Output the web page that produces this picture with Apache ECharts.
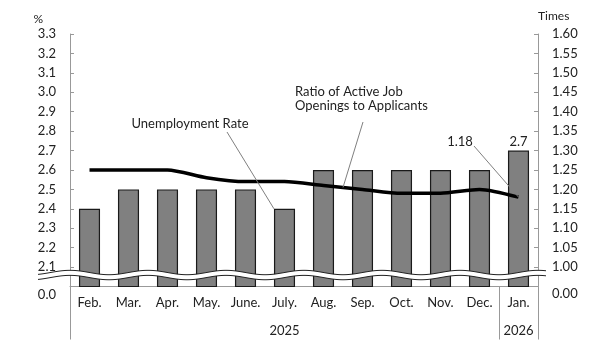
<!DOCTYPE html>
<html>
<head>
<meta charset="utf-8">
<script src="https://cdn.jsdelivr.net/npm/echarts@6/dist/echarts.min.js"></script>
<style>
html, body { margin: 0; padding: 0; background: #fff; }
#panel { width: 606px; height: 355px; }
</style>
</head>
<body>
<div id="panel"></div>
<script>
var months = ['Feb.', 'Mar.', 'Apr.', 'May.', 'June.', 'July.', 'Aug.', 'Sep.', 'Oct.', 'Nov.', 'Dec.', 'Jan.'];
var unemploymentRate = [2.4, 2.5, 2.5, 2.5, 2.5, 2.4, 2.6, 2.6, 2.6, 2.6, 2.6, 2.7];
var jobRatio = [1.25, 1.25, 1.25, 1.23, 1.22, 1.22, 1.21, 1.20, 1.19, 1.19, 1.20, 1.18];
var years = ['2025', '2026'];
var yearSpans = [[0, 11], [11, 12]];   // category index range of each year

var FONT = 'Lato';
var TEXT = '#222';
var AXIS = '#999';

var myChart;

function buildOption()
{
    var last = unemploymentRate.length - 1;
    var yearCenters = yearSpans.map(function (s) { return (s[0] + s[1]) / 2; });
    var yearBounds = [];
    yearSpans.forEach(function (s) {
        if (yearBounds.indexOf(s[0]) < 0) yearBounds.push(s[0]);
        if (yearBounds.indexOf(s[1]) < 0) yearBounds.push(s[1]);
    });

    return {
        backgroundColor: '#fff',
        animation: false,
        textStyle: { fontFamily: FONT, color: TEXT },
        grid: { left: 70, right: 68, top: 34, bottom: 68.5 },
        xAxis: [
            {
                type: 'category',
                data: months,
                axisLine: { lineStyle: { color: AXIS, width: 1 } },
                axisTick: { show: false },
                axisLabel: { color: TEXT, fontSize: 13, fontFamily: FONT, margin: 10, interval: 0 }
            },
            {
                // year row under the months
                type: 'value',
                position: 'bottom',
                min: 0,
                max: 12,
                interval: 0.5,
                axisLine: { show: false },
                splitLine: { show: false },
                axisTick: { show: true, length: 53, customValues: yearBounds, lineStyle: { color: AXIS } },
                axisLabel: {
                    color: TEXT, fontSize: 13, fontFamily: FONT, margin: 38,
                    customValues: yearCenters,
                    formatter: function (v) {
                        var i = yearCenters.indexOf(v);
                        return i >= 0 ? years[i] : '';
                    }
                }
            }
        ],
        yAxis: [
            {
                type: 'value',
                min: 2.0,
                max: 3.3,
                interval: 0.1,
                name: '%',
                nameLocation: 'end',
                nameGap: 9,
                nameTextStyle: { color: TEXT, fontSize: 12, fontFamily: FONT, align: 'right', padding: [0, 27, 0, 0] },
                axisLine: { show: true, lineStyle: { color: AXIS } },
                axisTick: { show: true, inside: true, length: 4, lineStyle: { color: AXIS } },
                splitLine: { show: false },
                axisLabel: {
                    color: TEXT, fontSize: 13, fontFamily: FONT, margin: 14,
                    formatter: function (v) {
                        if (Math.abs(v - 2.0) < 1e-6) return '{b|0.0}';
                        return v.toFixed(1);
                    },
                    rich: { b: { fontSize: 13, fontFamily: FONT, color: TEXT, padding: [16, 0, 0, 0] } }
                }
            },
            {
                type: 'value',
                min: 0.95,
                max: 1.60,
                interval: 0.05,
                name: 'Times',
                nameLocation: 'end',
                nameGap: 12,
                nameTextStyle: { color: TEXT, fontSize: 12, fontFamily: FONT, align: 'left', padding: [0, 0, 0, 0] },
                axisLine: { show: true, lineStyle: { color: AXIS } },
                axisTick: { show: true, inside: true, length: 4, lineStyle: { color: AXIS } },
                splitLine: { show: false },
                axisLabel: {
                    color: TEXT, fontSize: 13, fontFamily: FONT, margin: 14,
                    formatter: function (v) {
                        if (Math.abs(v - 0.95) < 1e-6) return '{b|0.00}';
                        return v.toFixed(2);
                    },
                    rich: { b: { fontSize: 13, fontFamily: FONT, color: TEXT, padding: [14, 0, 0, 0] } }
                }
            }
        ],
        series: [
            {
                name: 'Unemployment Rate',
                type: 'bar',
                xAxisIndex: 0,
                yAxisIndex: 0,
                barWidth: '54%',
                itemStyle: { color: '#808080', borderColor: '#1a1a1a', borderWidth: 1.2 },
                label: { show: false, position: 'top', distance: 2, color: TEXT, fontSize: 13, fontFamily: FONT },
                data: unemploymentRate.map(function (v, i) {
                    return i === last ? { value: v, label: { show: true } } : v;
                })
            },
            {
                name: 'Ratio of Active Job Openings to Applicants',
                type: 'line',
                xAxisIndex: 0,
                yAxisIndex: 1,
                symbol: 'none',
                smooth: 0.25,
                lineStyle: { color: '#000', width: 3.5 },
                z: 5,
                data: jobRatio
            }
        ]
    };
}

function buildExtras()
{
    var pL = function (i, v) { return myChart.convertToPixel({ xAxisIndex: 0, yAxisIndex: 0 }, [i, v]); };
    var pR = function (i, v) { return myChart.convertToPixel({ xAxisIndex: 0, yAxisIndex: 1 }, [i, v]); };
    var catW = pL(1, 2.5)[0] - pL(0, 2.5)[0];
    var elems = [];

    // axis break (wavy band)
    var yTop = myChart.convertToPixel({ yAxisIndex: 0 }, 2.072);
    var yBot = myChart.convertToPixel({ yAxisIndex: 0 }, 2.046);
    var up = [], lo = [];
    for (var x = 38; x <= 546; x += 2) {
        var d = 2.2 * Math.cos(2 * Math.PI * (x - 70) / 78);
        up.push([x, yTop - d]);
        lo.push([x, yBot - d]);
    }
    elems.push({ type: 'polygon', shape: { points: up.concat(lo.slice().reverse()) }, style: { fill: '#fff' }, z: 100 });
    elems.push({ type: 'polyline', shape: { points: up }, style: { stroke: '#222', lineWidth: 1, fill: null }, z: 101 });
    elems.push({ type: 'polyline', shape: { points: lo }, style: { stroke: '#222', lineWidth: 1, fill: null }, z: 101 });

    // Unemployment Rate callout -> top-left of July bar
    var july = pL(5, unemploymentRate[5]);
    elems.push({ type: 'text', x: 190, y: 124, z: 110,
        style: { text: 'Unemployment Rate', fill: TEXT, font: '13px ' + FONT, align: 'center', verticalAlign: 'middle' } });
    elems.push({ type: 'line', z: 110, shape: { x1: 227, y1: 132, x2: july[0] - catW * 0.27, y2: july[1] },
        style: { stroke: '#808080', lineWidth: 1 } });

    // Ratio callout -> between Aug and Sep on the line
    var a = pR(6, jobRatio[6]), b = pR(7, jobRatio[7]);
    elems.push({ type: 'text', x: 295, y: 99, z: 110,
        style: { text: 'Ratio of Active Job\nOpenings to Applicants', fill: TEXT, font: '13px ' + FONT, lineHeight: 14, align: 'left', verticalAlign: 'middle' } });
    elems.push({ type: 'line', z: 110, shape: { x1: 363, y1: 122, x2: (a[0] + b[0]) / 2, y2: (a[1] + b[1]) / 2 },
        style: { stroke: '#808080', lineWidth: 1 } });

    // last ratio value callout
    var lastIdx = jobRatio.length - 1;
    var pj = pR(lastIdx, jobRatio[lastIdx]);
    elems.push({ type: 'text', x: 460, y: 142, z: 110,
        style: { text: jobRatio[lastIdx].toFixed(2), fill: TEXT, font: '13px ' + FONT, align: 'center', verticalAlign: 'middle' } });
    elems.push({ type: 'line', z: 110, shape: { x1: 474, y1: 146, x2: pj[0], y2: pj[1] },
        style: { stroke: '#808080', lineWidth: 1 } });

    return elems;
}

myChart = echarts.init(document.getElementById('panel'), null, { renderer: 'canvas' });
myChart.setOption(buildOption());
myChart.setOption({ graphic: { elements: buildExtras() } });
</script>
</body>
</html>
